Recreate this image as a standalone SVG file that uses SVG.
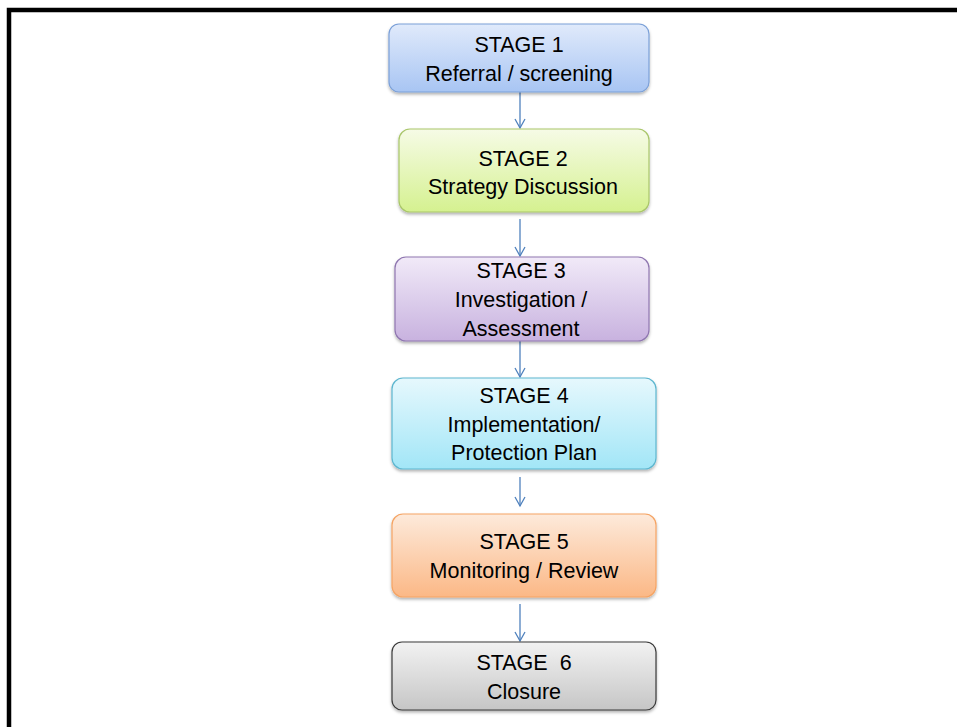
<svg xmlns="http://www.w3.org/2000/svg" width="957" height="727" viewBox="0 0 957 727">
<defs>
<style>
.t{font-family:"Liberation Sans",Arial,sans-serif;font-size:21.5px;fill:#000;text-anchor:middle}
.c{stroke:#4f81bd;stroke-width:1.3;fill:none}
.b{stroke-width:1.2}
</style>
<filter id="sh" x="-5%" y="-10%" width="110%" height="130%">
<feDropShadow dx="0" dy="2" stdDeviation="1.5" flood-color="#000" flood-opacity="0.3"/>
</filter>
<marker id="ah" markerUnits="userSpaceOnUse" markerWidth="12" markerHeight="12" refX="0" refY="0" orient="auto" overflow="visible">
<path d="M-9,-5 L0,0 L-9,5" fill="none" stroke="#4f81bd" stroke-width="1.3"/>
</marker>
<linearGradient id="g1" x1="0" y1="0" x2="0" y2="1"><stop offset="0" stop-color="#e0eafb"/><stop offset="1" stop-color="#a8c5f3"/></linearGradient>
<linearGradient id="g2" x1="0" y1="0" x2="0" y2="1"><stop offset="0" stop-color="#f6fbe6"/><stop offset="1" stop-color="#d5f190"/></linearGradient>
<linearGradient id="g3" x1="0" y1="0" x2="0" y2="1"><stop offset="0" stop-color="#f1eaf8"/><stop offset="1" stop-color="#c8b2df"/></linearGradient>
<linearGradient id="g4" x1="0" y1="0" x2="0" y2="1"><stop offset="0" stop-color="#e6f8fd"/><stop offset="1" stop-color="#a2e6f7"/></linearGradient>
<linearGradient id="g5" x1="0" y1="0" x2="0" y2="1"><stop offset="0" stop-color="#fdeadb"/><stop offset="1" stop-color="#fbb886"/></linearGradient>
<linearGradient id="g6" x1="0" y1="0" x2="0" y2="1"><stop offset="0" stop-color="#f2f2f2"/><stop offset="1" stop-color="#c6c6c6"/></linearGradient>
</defs>
<rect width="957" height="727" fill="#fff"/>
<path d="M9,727 V10 H957" fill="none" stroke="#000" stroke-width="4.5"/>
<g id="connectors">
<line class="c" x1="520" y1="92" x2="520" y2="128" marker-end="url(#ah)"/>
<line class="c" x1="520" y1="219" x2="520" y2="256" marker-end="url(#ah)"/>
<line class="c" x1="520" y1="341" x2="520" y2="377" marker-end="url(#ah)"/>
<line class="c" x1="520" y1="477" x2="520" y2="506" marker-end="url(#ah)"/>
<line class="c" x1="520" y1="604" x2="520" y2="641" marker-end="url(#ah)"/>
</g>
<g id="stage1">
<rect class="b" x="389" y="24" width="260" height="68" rx="10" fill="url(#g1)" stroke="#7ba0d8" filter="url(#sh)"/>
<text class="t" x="519" y="52">STAGE 1</text>
<text class="t" x="519" y="81">Referral / screening</text>
</g>
<g id="stage2">
<rect class="b" x="399" y="129" width="250" height="83" rx="11" fill="url(#g2)" stroke="#a9c66a" filter="url(#sh)"/>
<text class="t" x="523" y="166">STAGE 2</text>
<text class="t" x="523" y="194">Strategy Discussion</text>
</g>
<g id="stage3">
<rect class="b" x="395" y="257" width="254" height="84" rx="11" fill="url(#g3)" stroke="#8f76b0" filter="url(#sh)"/>
<text class="t" x="521" y="278">STAGE 3</text>
<text class="t" x="521" y="307">Investigation /</text>
<text class="t" x="521" y="336">Assessment</text>
</g>
<g id="stage4">
<rect class="b" x="392" y="378" width="264" height="91" rx="11" fill="url(#g4)" stroke="#5db6cf" filter="url(#sh)"/>
<text class="t" x="524" y="403">STAGE 4</text>
<text class="t" x="524" y="432">Implementation/</text>
<text class="t" x="524" y="460">Protection Plan</text>
</g>
<g id="stage5">
<rect class="b" x="392" y="514" width="264" height="83" rx="11" fill="url(#g5)" stroke="#f5a464" filter="url(#sh)"/>
<text class="t" x="524" y="549">STAGE 5</text>
<text class="t" x="524" y="578">Monitoring / Review</text>
</g>
<g id="stage6">
<rect class="b" x="392" y="642" width="264" height="68" rx="10" fill="url(#g6)" stroke="#3a3a3a" filter="url(#sh)"/>
<text class="t" x="524" y="670" xml:space="preserve">STAGE  6</text>
<text class="t" x="524" y="699">Closure</text>
</g>
</svg>
